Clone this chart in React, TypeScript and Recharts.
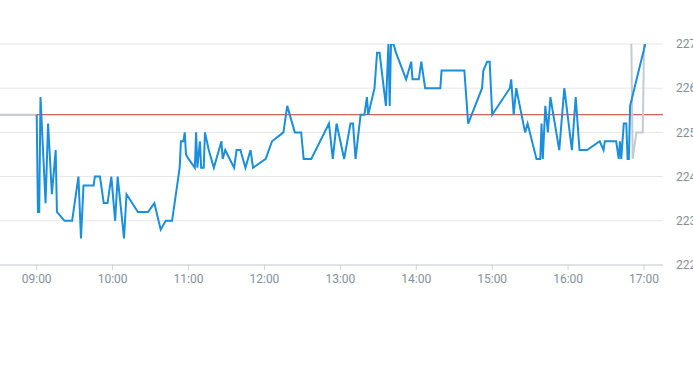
import { CartesianGrid, Line, LineChart, ReferenceLine, XAxis, YAxis } from "recharts";

// minutes since midnight
const priceTimes = [
  540, 541, 542, 543, 547, 549, 552, 555, 556, 562, 568, 573, 575, 577, 585, 586, 590, 593, 596, 599,
  602, 604, 609, 611, 620, 628, 633, 638, 642, 647, 649, 653, 654, 656, 657, 658, 660, 665, 666, 667,
  669, 670, 672, 673, 676, 680, 686, 687, 689, 696, 698, 701, 705, 709, 711, 721, 726, 735, 738, 744,
  749, 751, 757, 771, 774, 777, 783, 788, 790, 792, 796, 799, 801, 802, 807, 809, 811, 816, 818, 819,
  820, 822, 824, 832, 836, 837, 842, 844, 847, 859, 860, 878, 881, 892, 893, 896, 898, 900, 914, 915,
  917, 919, 926, 928, 935, 938, 939, 940, 942, 944, 946, 953, 957, 963, 966, 969, 975, 985, 988, 989,
  998, 1000, 1001, 1002, 1004, 1006, 1007, 1008, 1009, 1021,
];
const priceValues = [
  225.4, 223.2, 223.2, 225.8, 223.4, 225.2, 223.6, 224.6, 223.2, 223.0, 223.0, 224.0, 222.6, 223.8, 223.8, 224.0, 224.0, 223.4, 223.4, 224.0,
  223.0, 224.0, 222.6, 223.6, 223.2, 223.2, 223.4, 222.8, 223.0, 223.0, 223.4, 224.2, 224.8, 224.8, 225.0, 224.5, 224.4, 224.2, 225.0, 224.2,
  224.8, 224.2, 224.2, 225.0, 224.6, 224.2, 224.8, 224.4, 224.6, 224.2, 224.6, 224.6, 224.2, 224.6, 224.2, 224.4, 224.8, 225.0, 225.6, 225.0,
  225.0, 224.4, 224.4, 225.2, 224.4, 225.2, 224.4, 225.2, 225.2, 224.4, 225.4, 225.4, 225.8, 225.4, 226.0, 226.8, 226.8, 225.6, 227.0, 225.6,
  227.0, 227.0, 226.8, 226.2, 226.6, 226.2, 226.2, 226.6, 226.0, 226.0, 226.4, 226.4, 225.2, 226.0, 226.4, 226.6, 226.6, 225.4, 226.0, 226.2,
  225.4, 226.0, 225.0, 225.2, 224.4, 224.4, 225.2, 224.4, 225.6, 225.0, 225.8, 224.6, 226.0, 224.6, 225.8, 224.6, 224.6, 224.8, 224.6, 224.8,
  224.8, 224.4, 224.8, 224.4, 225.2, 225.2, 224.4, 224.4, 225.6, 227.0,
];

// pre-market / after-hours (null = market hours, no line)
const extTimes = [511, 540, 541, 1010, 1011, 1014, 1019, 1020];
const extValues = [225.4, 225.4, null, 227.0, 224.4, 225.0, 225.0, 227.0];

const prevClose = 225.4;
const hourTicks = [540, 600, 660, 720, 780, 840, 900, 960, 1020];
const priceTicks = [222, 223, 224, 225, 226, 227];

const priceData = priceTimes.map((t, i) => ({ t, v: priceValues[i] }));
const extData = extTimes.map((t, i) => ({ t, v: extValues[i] }));

const fmtTime = (m: number) =>
  `${String(Math.floor(m / 60)).padStart(2, "0")}:${String(m % 60).padStart(2, "0")}`;

const tickStyle = { fill: "#84909c", fontSize: 12, fontFamily: "Roboto, sans-serif" };

export default function App() {
  return (
    <div style={{ position: "absolute", left: 0, top: 0, width: 693, height: 365, overflow: "hidden" }}>
      <LineChart width={693} height={365} margin={{ top: 44, right: 0, bottom: 70, left: 0 }}>
        <CartesianGrid stroke="#e6e6e6" vertical={false} />
        <XAxis
          type="number"
          dataKey="t"
          domain={[511, 1035]}
          ticks={hourTicks}
          tickFormatter={fmtTime}
          tick={tickStyle}
          stroke="#ccd3da"
          tickSize={5}
          tickMargin={4}
          height={30}
        />
        <YAxis
          orientation="right"
          domain={[222, 227]}
          ticks={priceTicks}
          tick={tickStyle}
          axisLine={false}
          tickLine={false}
          tickMargin={7}
          width={30}
          allowDataOverflow
        />
        <ReferenceLine y={prevClose} stroke="#c8392b" strokeWidth={1} />
        <Line
          data={extData}
          dataKey="v"
          type="linear"
          stroke="#c3cbd3"
          strokeWidth={2}
          dot={false}
          connectNulls={false}
          isAnimationActive={false}
        />
        <Line
          data={priceData}
          dataKey="v"
          type="linear"
          stroke="#1a8fdd"
          strokeWidth={2}
          dot={false}
          isAnimationActive={false}
        />
      </LineChart>
    </div>
  );
}
